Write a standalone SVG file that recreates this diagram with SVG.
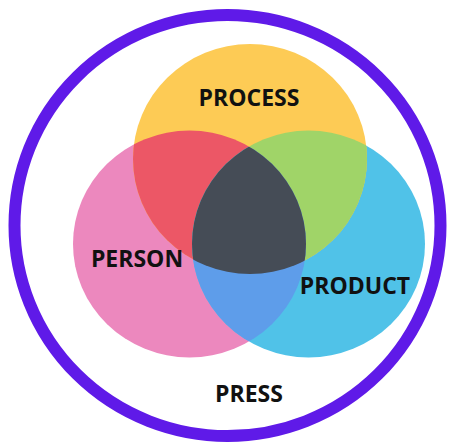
<svg xmlns="http://www.w3.org/2000/svg" width="454" height="444" viewBox="0 0 454 444">
<style>
.lbl{font-family:"Open Sans","Liberation Sans",sans-serif;font-weight:700;font-size:23px;fill:#111;text-anchor:middle}
</style>
<defs>
<clipPath id="cY"><ellipse cx="250" cy="159" rx="117" ry="115"/></clipPath>
<clipPath id="cP"><ellipse cx="189.5" cy="244" rx="116.5" ry="113.5"/></clipPath>
<clipPath id="cB"><ellipse cx="308.5" cy="244" rx="116.5" ry="113.5"/></clipPath>
</defs>
<rect width="454" height="444" fill="#fff"/>
<g id="press">
<ellipse cx="227.5" cy="225.5" rx="213" ry="210.5" fill="none" stroke="#5F1AE8" stroke-width="12"/>
<text class="lbl" x="249" y="402">PRESS</text>
</g>
<g id="person"><ellipse cx="189.5" cy="244" rx="116.5" ry="113.5" fill="#EC88BE"/></g>
<g id="product"><ellipse cx="308.5" cy="244" rx="116.5" ry="113.5" fill="#50C2E8"/></g>
<g id="process"><ellipse cx="250" cy="159" rx="117" ry="115" fill="#FDCB55"/></g>
<g id="overlaps">
<ellipse cx="189.5" cy="244" rx="116.5" ry="113.5" fill="#EC5766" clip-path="url(#cY)"/>
<ellipse cx="308.5" cy="244" rx="116.5" ry="113.5" fill="#A0D468" clip-path="url(#cY)"/>
<ellipse cx="308.5" cy="244" rx="116.5" ry="113.5" fill="#5E9DEA" clip-path="url(#cP)"/>
<g clip-path="url(#cP)"><ellipse cx="250" cy="159" rx="117" ry="115" fill="#454C56" clip-path="url(#cB)"/></g>
</g>
<g id="labels">
<text class="lbl" x="249" y="106">PROCESS</text>
<text class="lbl" x="137" y="267">PERSON</text>
<text class="lbl" x="355" y="294">PRODUCT</text>
</g>
</svg>
